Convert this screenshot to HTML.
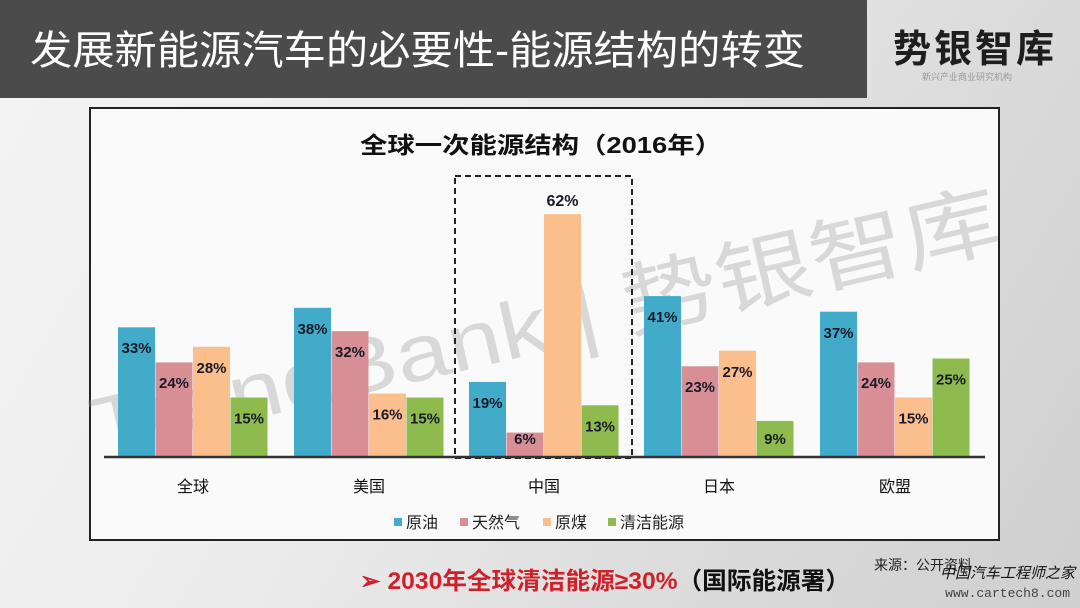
<!DOCTYPE html>
<html><head><meta charset="utf-8"><style>
html,body{margin:0;padding:0;}
body{width:1080px;height:608px;overflow:hidden;position:relative;background:linear-gradient(120deg,#f4f4f4 0%,#ececec 40%,#dcdcdc 70%,#cfcfcf 100%);font-family:"Liberation Sans","Noto Sans CJK SC",sans-serif;}
svg{position:absolute;left:0;top:0;}
</style></head><body>
<svg width="1080" height="608" viewBox="0 0 1080 608" xmlns="http://www.w3.org/2000/svg" font-family="'Liberation Sans','Noto Sans CJK SC',sans-serif">
<rect x="0" y="0" width="867" height="98" fill="#4b4b4b"/>
<text x="30" y="64" font-size="40" fill="#fff" textLength="775" lengthAdjust="spacingAndGlyphs">发展新能源汽车的必要性-能源结构的转变</text>
<text x="893" y="62" font-size="38" font-weight="bold" fill="#1e1e1e" letter-spacing="3">势银智库</text>
<text x="922" y="80" font-size="9" fill="#999">新兴产业商业研究机构</text>
<rect x="90" y="108" width="909" height="432" fill="#fafafa" stroke="#222" stroke-width="2"/>
<text x="360" y="153" font-size="23" font-weight="bold" fill="#111" textLength="362" lengthAdjust="spacingAndGlyphs">全球一次能源结构（2016年）</text>
<text transform="translate(98,455) rotate(-13)" font-size="80" fill="#999" fill-opacity="0.35" textLength="930" lengthAdjust="spacingAndGlyphs">TrendBank | 势银智库</text>
<rect x="455" y="176" width="177" height="282" fill="none" stroke="#222" stroke-width="2" stroke-dasharray="6,4"/>
<g>
<rect x="118" y="327.3" width="37" height="128.7" fill="#42abc9"/>
<rect x="155.5" y="362.4" width="37" height="93.6" fill="#d88e95"/>
<rect x="193" y="346.8" width="37" height="109.2" fill="#fbbf8e"/>
<rect x="230.5" y="397.5" width="37" height="58.5" fill="#8dbb4e"/>
<rect x="294" y="307.8" width="37" height="148.2" fill="#42abc9"/>
<rect x="331.5" y="331.2" width="37" height="124.8" fill="#d88e95"/>
<rect x="369" y="393.6" width="37" height="62.4" fill="#fbbf8e"/>
<rect x="406.5" y="397.5" width="37" height="58.5" fill="#8dbb4e"/>
<rect x="469" y="381.9" width="37" height="74.1" fill="#42abc9"/>
<rect x="506.5" y="432.6" width="37" height="23.4" fill="#d88e95"/>
<rect x="544" y="214.2" width="37" height="241.8" fill="#fbbf8e"/>
<rect x="581.5" y="405.3" width="37" height="50.7" fill="#8dbb4e"/>
<rect x="644" y="296.1" width="37" height="159.9" fill="#42abc9"/>
<rect x="681.5" y="366.3" width="37" height="89.7" fill="#d88e95"/>
<rect x="719" y="350.7" width="37" height="105.3" fill="#fbbf8e"/>
<rect x="756.5" y="420.9" width="37" height="35.1" fill="#8dbb4e"/>
<rect x="820" y="311.7" width="37" height="144.3" fill="#42abc9"/>
<rect x="857.5" y="362.4" width="37" height="93.6" fill="#d88e95"/>
<rect x="895" y="397.5" width="37" height="58.5" fill="#fbbf8e"/>
<rect x="932.5" y="358.5" width="37" height="97.5" fill="#8dbb4e"/>
</g>
<g font-size="15" font-weight="bold" fill="#1a1a2a" text-anchor="middle">
<text x="136.5" y="353">33%</text><text x="174" y="388">24%</text><text x="211.5" y="373">28%</text><text x="249" y="423.5">15%</text>
<text x="312.5" y="334">38%</text><text x="350" y="357">32%</text><text x="387.5" y="419.6">16%</text><text x="425" y="423.5">15%</text>
<text x="487.5" y="408">19%</text><text x="525" y="444">6%</text><text x="562.5" y="206" font-size="16">62%</text><text x="600" y="431.3">13%</text>
<text x="662.5" y="322">41%</text><text x="700" y="392">23%</text><text x="737.5" y="377">27%</text><text x="775" y="444">9%</text>
<text x="838.5" y="338">37%</text><text x="876" y="388">24%</text><text x="913.5" y="423.5">15%</text><text x="951" y="384.5">25%</text>
</g>
<line x1="104" y1="457" x2="985" y2="457" stroke="#333" stroke-width="2.5"/>
<g font-size="16" fill="#111" text-anchor="middle">
<text x="193" y="492">全球</text><text x="369" y="492">美国</text><text x="544" y="492">中国</text><text x="719" y="492">日本</text><text x="895" y="492">欧盟</text>
</g>
<g font-size="16" fill="#222">
<rect x="394" y="518" width="8" height="8" fill="#42abc9"/><text x="406" y="528">原油</text>
<rect x="460" y="518" width="8" height="8" fill="#d88e95"/><text x="472" y="528">天然气</text>
<rect x="543" y="518" width="8" height="8" fill="#fbbf8e"/><text x="555" y="528">原煤</text>
<rect x="608" y="518" width="8" height="8" fill="#8dbb4e"/><text x="620" y="528">清洁能源</text>
</g>
<text x="360" y="589" font-size="24" font-weight="bold" fill="#d0202a" textLength="490" lengthAdjust="spacingAndGlyphs">➢ 2030年全球清洁能源≥30%<tspan fill="#111">（国际能源署）</tspan></text>
<text x="874" y="570" font-size="14" fill="#222">来源：公开资料</text>
<text x="940" y="578" font-size="15" fill="#111" font-style="italic">中国汽车工程师之家</text>
<text x="1070" y="597" font-size="13" fill="#444" text-anchor="end" font-family="'Liberation Mono',monospace">www.cartech8.com</text>
</svg>
</body></html>
